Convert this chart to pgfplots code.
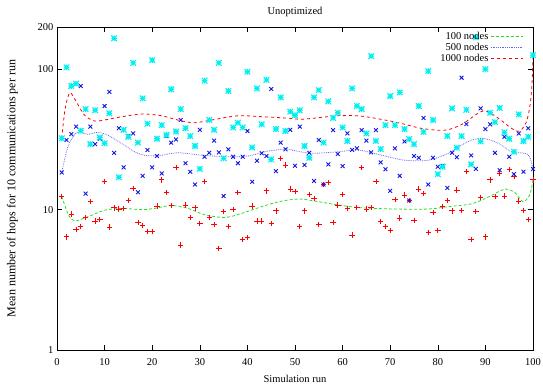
\documentclass[border=0pt]{standalone}
\usepackage{fontspec}
\setmainfont{Liberation Serif}
\usepackage{pgfplots}
\usepackage{pgfplotstable}
\pgfplotsset{compat=1.18}

\definecolor{gpred}{RGB}{255,0,0}
\definecolor{gpblue}{RGB}{20,20,230}
\definecolor{gpcyan}{RGB}{0,240,240}
\definecolor{gpgreen}{RGB}{40,220,40}
\definecolor{gplblue}{RGB}{100,100,240}

\pgfdeclareplotmark{gpstar}{%
  \pgfpathmoveto{\pgfqpoint{-\pgfplotmarksize}{0pt}}%
  \pgfpathlineto{\pgfqpoint{\pgfplotmarksize}{0pt}}%
  \pgfpathmoveto{\pgfqpoint{0pt}{-\pgfplotmarksize}}%
  \pgfpathlineto{\pgfqpoint{0pt}{\pgfplotmarksize}}%
  \pgfpathmoveto{\pgfqpoint{-\pgfplotmarksize}{-\pgfplotmarksize}}%
  \pgfpathlineto{\pgfqpoint{\pgfplotmarksize}{\pgfplotmarksize}}%
  \pgfpathmoveto{\pgfqpoint{-\pgfplotmarksize}{\pgfplotmarksize}}%
  \pgfpathlineto{\pgfqpoint{\pgfplotmarksize}{-\pgfplotmarksize}}%
  \pgfusepathqstroke}

\pgfplotstableread{
run red blue cyan
1 12.4 18.4 32.2
2 6.4 31.3 103
3 9.3 34.5 76
4 7.2 39 79
5 7.6 75.9 36.5
6 8.8 13 52
7 11.4 39 29.3
8 8.3 29.3 51
9 8.5 32 32.7
10 15.8 54.7 29.7
11 7.5 69 48.5
12 10.3 25.4 166
13 10.1 38 17
14 10.2 20.0 37
15 11.6 33.4 33
16 14.2 34.9 111
17 8.1 13.3 30
18 7.7 17.4 62
19 7.0 26.6 41
20 7.0 20 116
21 10.6 24.1 32
22 16.3 18.1 40
23 13.3 33.4 34
24 10.7 30 72
25 20.0 31.6 36
26 5.6 43.5 52
27 10.8 21.4 38
28 8.8 18.6 33.4
29 10.3 15.1 28.4
30 8.0 37 19.5
31 15.8 23.8 83
32 8.8 25.4 43.5
33 7.8 31 37
34 5.3 25.6 111
35 9.7 12.5 23.2
36 7.6 26.9 70
37 10.0 23.8 38.5
38 13.2 21.4 41.6
39 6.1 23.8 38.5
40 6.3 36.3 96
41 10.6 15.8 27.7
42 8.3 22.3 73
43 8.3 25.2 40.5
44 13.6 24.1 84
45 8.0 72.3 22.8
46 9.8 18.8 37.5
47 23.2 30 63
48 20.8 26.9 36.3
49 14.0 37 49.9
50 13.4 20.5 47
51 7.6 39 51
52 9.8 20.8 28.4
53 12.8 25.4 23.4
54 12.0 16 63
55 7.8 31.3 71
56 15.1 15.1 30
57 15.6 21 59
58 8.1 36.8 45
59 10.8 24.9 49
60 12.8 20.4 38.5
61 10.2 34.9 30.8
62 6.6 26.6 73
63 10.4 27.3 54.7
64 19.9 36.8 52
65 10.1 31 34.9
66 10.4 25.6 124
67 15.8 36.8 30.8
68 8.2 21.7 27
69 7.6 19.4 40
70 7.1 13.6 64.4
71 11.8 27.3 40
72 8.7 17.4 68.4
73 12.7 30.6 37.5
74 11.6 11.6 31.8
75 8.4 24.1 29.3
76 14.0 23.4 54.7
77 13.0 45 35.8
78 6.9 15.1 97
79 9.5 23.4 43.5
80 7.1 20.2 17.9
81 10.5 20.5 20.2
82 11.6 14.3 33.4
83 9.8 25.4 52.6
84 13.8 23.6 27.6
85 9.9 87 33.4
86 18.6 40.7 51.4
87 6.1 24.3 21
88 9.7 19.5 169
89 12.2 52.6 30.6
90 6.4 37.5 100
91 16.3 40.5 49
92 12.4 25.4 42
93 18.1 19.1 53
94 12.5 33 35.5
95 19.3 23.8 32
96 17.2 17.9 25.8
97 11.5 34.9 47.7
98 9.9 18.6 30.8
99 8.5 38 33
100 16.3 19.5 126
}\datatable

\begin{document}
\begin{tikzpicture}
\useasboundingbox (-57pt,-37pt) rectangle (486pt,350pt);
\begin{axis}[
  scale only axis,
  width=476pt, height=323pt,
  at={(0,0)}, anchor=south west,
  xmin=0, xmax=100, ymin=1, ymax=200,
  ymode=log,
  xtick={0,10,...,100},
  ytick={1,10,100,200},
  yticklabels={1,10,100,200},
  minor tick num=0,
  yminorticks=false,
  tick align=inside,
  major tick length=5pt,
  tick style={black, line width=0.5pt},
  axis line style={line width=0.8pt},
  /pgf/number format/assume math mode=true,
  tick label style={font=\fontsize{10.5}{12}\selectfont},
  xticklabel style={yshift=-5pt},
  label style={font=\fontsize{10.5}{12}\selectfont},
  title style={font=\fontsize{10.5}{12}\selectfont, at={(0.5,1)}, yshift=1pt},
  title={Unoptimized},
  xlabel={Simulation run},
  ylabel={Mean number of hops for 10 communications per run},
  xlabel style={yshift=-3pt},
  ylabel style={yshift=13pt, font=\fontsize{12}{14}\selectfont},
  legend cell align=right,
  legend plot pos=right,
  legend style={at={(rel axis cs:0.98,0.99)}, anchor=north east,
    draw=none, fill=none, font=\fontsize{10.5}{11}\selectfont,
    inner sep=0pt, row sep=-2pt,
    /tikz/every even column/.append style={column sep=6pt}},
  legend image code/.code={\draw[#1] (0pt,0pt) -- (32pt,0pt);},
]
\addplot[only marks, mark=+, mark size=2.7pt, gpred, line width=0.8pt, forget plot] table[x=run, y=red] {\datatable};
\addplot[only marks, mark=x, mark size=2.7pt, gpblue, line width=0.9pt, forget plot] table[x=run, y=blue] {\datatable};
\addplot[only marks, mark=gpstar, mark size=2.8pt, gpcyan, line width=1.1pt, forget plot] table[x=run, y=cyan] {\datatable};

\addplot[gpgreen, densely dashed, line width=0.8pt, smooth, tension=0.5] coordinates {
(1,12.4) (2.4,9.2) (3.7,8.3) (6.5,8.9) (10,9.9) (13.6,10.2) (17.8,10.0) (20.5,10.2)
(24,10.7) (27.5,10.2) (31,9.2) (35.3,8.8) (38.8,9.4) (43,10.5) (47.2,11.5) (51,11.9)
(54.2,11.5) (59,10.8) (64,10.3) (71,10.1) (78,10.1) (82.2,10.5) (87.1,11.0) (90.6,12.3)
(94.1,14.0) (96.2,13.2) (97.9,11.4) (99.3,12.7) (100,16.3)};
\addlegendentry{100 nodes}
\addplot[gplblue, densely dotted, line width=0.8pt, smooth, tension=0.5] coordinates {
(1,18.4) (2.3,28) (4.1,35.3) (6.5,34.4) (8.6,35.5) (10.7,33.9) (13.5,29.7) (16.3,25.8)
(18.4,24.4) (21.2,24.2) (25.4,25.4) (30.4,24.4) (36,23.8) (40.1,24.1) (44.3,26.1)
(48.5,27) (50,26.3) (53.5,25.2) (59,25.8) (63.3,26.6) (68.2,24.4) (73,22.5) (78,22.5)
(82.2,25.2) (86.4,30.6) (89.5,32.2) (92.7,29.7) (95.5,25.8) (98.3,25.2) (99.3,23.8) (100,19.5)};
\addlegendentry{500 nodes}
\addplot[gpred, dashed, line width=0.8pt, smooth, tension=0.5] coordinates {
(1,32.2) (1.7,52) (2.7,68) (4,59) (5.8,47) (7.9,42.8) (10,43.5) (13.6,45.9) (18,48)
(22,46.6) (26.2,42.8) (29,41.6) (32.5,43.5) (38,46.6) (43,45.9) (48.6,44.8) (51,44)
(54,44.8) (59,46.6) (64,46.3) (71,42.1) (76.6,37.9) (81.5,36.8) (85,40.4) (89.5,50.4)
(92.7,44.8) (95.5,37.9) (97.2,36.3) (98.6,42.1) (99.4,56) (99.8,80) (100,126)};
\addlegendentry{1000 nodes}
\end{axis}
\end{tikzpicture}
\end{document}
